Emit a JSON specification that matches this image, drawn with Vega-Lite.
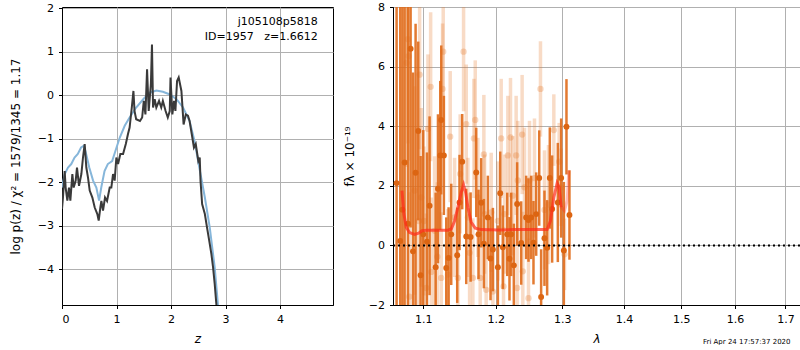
{
  "$schema": "https://vega.github.io/schema/vega-lite/v6.json",
  "background": "white",
  "padding": {"left": 8, "top": 0, "right": 1, "bottom": 0},
  "config": {
    "font": "DejaVu Sans",
    "view": {"stroke": "black", "strokeWidth": 1},
    "axis": {"grid": true, "gridColor": "#b0b0b0", "gridWidth": 1, "domainColor": "black", "tickColor": "black", "tickSize": 3.5, "labelFont": "DejaVu Sans", "labelFontSize": 11, "labelColor": "black", "titleFont": "DejaVu Sans", "titleFontSize": 12, "titleFontWeight": "normal", "titleColor": "black", "labelPadding": 5, "labelExpr": "replace(datum.label, '-', '−')"},
    "axisX": {"titlePadding": 9},
    "concat": {"spacing": 8}
  },
  "title": {"text": "Fri Apr 24 17:57:37 2020", "orient": "bottom", "anchor": "end", "fontSize": 7, "fontWeight": "normal", "color": "black", "offset": -7, "dx": -11},
  "datasets": {
    "blue": [
      {"z": 0, "logp": -2.12}, {"z": 0.05, "logp": -1.81}, {"z": 0.11, "logp": -1.66}, {"z": 0.17, "logp": -1.58}, {"z": 0.23, "logp": -1.43}, {"z": 0.29, "logp": -1.35}, {"z": 0.35, "logp": -1.2}, {"z": 0.40, "logp": -1.16}, {"z": 0.43, "logp": -1.28}, {"z": 0.50, "logp": -1.66}, {"z": 0.57, "logp": -1.96}, {"z": 0.63, "logp": -2.12}, {"z": 0.68, "logp": -2.42}, {"z": 0.72, "logp": -2.12}, {"z": 0.78, "logp": -1.74}, {"z": 0.84, "logp": -1.58}, {"z": 0.92, "logp": -1.51}, {"z": 1.0, "logp": -1.2}, {"z": 1.06, "logp": -0.97}, {"z": 1.15, "logp": -0.70}, {"z": 1.24, "logp": -0.51}, {"z": 1.36, "logp": -0.28}, {"z": 1.49, "logp": -0.09}, {"z": 1.61, "logp": 0.06}, {"z": 1.73, "logp": 0.11}, {"z": 1.85, "logp": 0.08}, {"z": 1.98, "logp": 0.02}, {"z": 2.10, "logp": -0.09}, {"z": 2.22, "logp": -0.28}, {"z": 2.34, "logp": -0.59}, {"z": 2.43, "logp": -1.05}, {"z": 2.53, "logp": -1.74}, {"z": 2.62, "logp": -2.35}, {"z": 2.71, "logp": -3.04}, {"z": 2.80, "logp": -3.95}, {"z": 2.86, "logp": -4.81}, {"z": 2.90, "logp": -5.3}
    ],
    "dark": [
      {"z": 0, "logp": -2.61}, {"z": 0.018, "logp": -2.35}, {"z": 0.049, "logp": -1.74}, {"z": 0.067, "logp": -2.12}, {"z": 0.098, "logp": -2.42}, {"z": 0.128, "logp": -2.12}, {"z": 0.153, "logp": -2.42}, {"z": 0.19, "logp": -1.81}, {"z": 0.214, "logp": -2.12}, {"z": 0.251, "logp": -1.96}, {"z": 0.275, "logp": -1.66}, {"z": 0.312, "logp": -2.08}, {"z": 0.355, "logp": -1.81}, {"z": 0.385, "logp": -1.43}, {"z": 0.416, "logp": -1.12}, {"z": 0.446, "logp": -1.66}, {"z": 0.477, "logp": -1.89}, {"z": 0.508, "logp": -2.19}, {"z": 0.557, "logp": -2.35}, {"z": 0.60, "logp": -2.58}, {"z": 0.648, "logp": -2.73}, {"z": 0.673, "logp": -2.88}, {"z": 0.703, "logp": -2.58}, {"z": 0.722, "logp": -2.43}, {"z": 0.752, "logp": -2.65}, {"z": 0.789, "logp": -2.35}, {"z": 0.826, "logp": -2.43}, {"z": 0.875, "logp": -2.12}, {"z": 0.905, "logp": -2.12}, {"z": 0.936, "logp": -1.81}, {"z": 0.966, "logp": -1.96}, {"z": 0.997, "logp": -1.43}, {"z": 1.028, "logp": -1.58}, {"z": 1.07, "logp": -1.35}, {"z": 1.12, "logp": -1.35}, {"z": 1.17, "logp": -1.12}, {"z": 1.21, "logp": -0.89}, {"z": 1.24, "logp": -0.74}, {"z": 1.26, "logp": -0.51}, {"z": 1.28, "logp": -0.28}, {"z": 1.31, "logp": 0.10}, {"z": 1.33, "logp": -0.36}, {"z": 1.36, "logp": -0.55}, {"z": 1.43, "logp": -0.59}, {"z": 1.47, "logp": -0.51}, {"z": 1.50, "logp": -0.13}, {"z": 1.53, "logp": -0.44}, {"z": 1.56, "logp": 0.60}, {"z": 1.59, "logp": -0.36}, {"z": 1.63, "logp": 0.25}, {"z": 1.65, "logp": 1.17}, {"z": 1.67, "logp": -0.28}, {"z": 1.70, "logp": -0.09}, {"z": 1.73, "logp": -0.28}, {"z": 1.78, "logp": -0.13}, {"z": 1.82, "logp": -0.28}, {"z": 1.85, "logp": -0.13}, {"z": 1.90, "logp": -0.36}, {"z": 1.94, "logp": -0.51}, {"z": 1.976, "logp": -0.36}, {"z": 1.99, "logp": 0.41}, {"z": 2.024, "logp": -0.44}, {"z": 2.055, "logp": -0.13}, {"z": 2.08, "logp": -0.36}, {"z": 2.11, "logp": 0.33}, {"z": 2.14, "logp": 0.41}, {"z": 2.19, "logp": 0.10}, {"z": 2.23, "logp": -0.67}, {"z": 2.27, "logp": -0.44}, {"z": 2.31, "logp": -0.47}, {"z": 2.34, "logp": -0.59}, {"z": 2.39, "logp": -0.97}, {"z": 2.42, "logp": -1.2}, {"z": 2.453, "logp": -1.12}, {"z": 2.50, "logp": -1.51}, {"z": 2.526, "logp": -1.43}, {"z": 2.54, "logp": -1.96}, {"z": 2.57, "logp": -2.50}, {"z": 2.62, "logp": -2.73}, {"z": 2.66, "logp": -3.04}, {"z": 2.70, "logp": -3.34}, {"z": 2.74, "logp": -3.65}, {"z": 2.77, "logp": -3.95}, {"z": 2.80, "logp": -4.33}, {"z": 2.83, "logp": -4.79}, {"z": 2.85, "logp": -5.1}
    ],
    "spec_dark": [
      {"lam": 1.0653, "f": 2.09, "lo": -5.91, "hi": 10.09}, {"lam": 1.0700, "f": 0.15, "lo": -7.85, "hi": 8.15}, {"lam": 1.0728, "f": 1.2, "lo": -6.8, "hi": 9.2}, {"lam": 1.0756, "f": 2.78, "lo": -5.22, "hi": 10.78}, {"lam": 1.0799, "f": 0.73, "lo": -7.27, "hi": 8.73}, {"lam": 1.0834, "f": 6.6, "lo": 0.6, "hi": 12.6}, {"lam": 1.0865, "f": -0.2, "lo": -6.2, "hi": 5.8}, {"lam": 1.0899, "f": 2.44, "lo": -2.56, "hi": 7.44}, {"lam": 1.0934, "f": 3.84, "lo": 0.84, "hi": 6.84}, {"lam": 1.0965, "f": -1.0, "lo": -5.0, "hi": 3.0}, {"lam": 1.1000, "f": 0.37, "lo": -3.13, "hi": 3.87}, {"lam": 1.1049, "f": 0.12, "lo": -2.88, "hi": 3.12}, {"lam": 1.1084, "f": 1.33, "lo": -1.67, "hi": 4.33}, {"lam": 1.1165, "f": -0.73, "lo": -3.23, "hi": 1.77}, {"lam": 1.1196, "f": 1.9, "lo": -0.6, "hi": 4.4}, {"lam": 1.1227, "f": 3.02, "lo": 0.52, "hi": 5.52}, {"lam": 1.1276, "f": 3.02, "lo": 1.02, "hi": 5.02}, {"lam": 1.1240, "f": 4.21, "lo": 1.71, "hi": 6.71}, {"lam": 1.1340, "f": -0.42, "lo": -2.12, "hi": 1.28}, {"lam": 1.1308, "f": -0.76, "lo": -2.46, "hi": 0.94}, {"lam": 1.1376, "f": 0.37, "lo": -1.33, "hi": 2.07}, {"lam": 1.1458, "f": -0.33, "lo": -1.93, "hi": 1.27}, {"lam": 1.1490, "f": 1.44, "lo": -0.16, "hi": 3.04}, {"lam": 1.1527, "f": 2.81, "lo": 1.21, "hi": 4.41}, {"lam": 1.1583, "f": 0.30, "lo": -1.3, "hi": 1.9}, {"lam": 1.1644, "f": 0.28, "lo": -1.22, "hi": 1.78}, {"lam": 1.1723, "f": 2.45, "lo": 0.95, "hi": 3.95}, {"lam": 1.1755, "f": 0.37, "lo": -1.13, "hi": 1.87}, {"lam": 1.1793, "f": 1.43, "lo": -0.07, "hi": 2.93}, {"lam": 1.1831, "f": 0.06, "lo": -1.44, "hi": 1.56}, {"lam": 1.1888, "f": 0.94, "lo": -0.46, "hi": 2.34}, {"lam": 1.1926, "f": -0.44, "lo": -1.84, "hi": 0.96}, {"lam": 1.1960, "f": -0.14, "lo": -1.54, "hi": 1.26}, {"lam": 1.2032, "f": -0.73, "lo": -2.13, "hi": 0.67}, {"lam": 1.2066, "f": 1.75, "lo": 0.35, "hi": 3.15}, {"lam": 1.2104, "f": -0.06, "lo": -1.46, "hi": 1.34}, {"lam": 1.2168, "f": 0.37, "lo": -1.03, "hi": 1.77}, {"lam": 1.2201, "f": -0.45, "lo": -1.85, "hi": 0.95}, {"lam": 1.2226, "f": 0.37, "lo": -1.03, "hi": 1.77}, {"lam": 1.2265, "f": -0.67, "lo": -2.07, "hi": 0.73}, {"lam": 1.2314, "f": 1.39, "lo": -0.01, "hi": 2.79}, {"lam": 1.2374, "f": 0.08, "lo": -1.32, "hi": 1.48}, {"lam": 1.2448, "f": 0.94, "lo": -0.46, "hi": 2.34}, {"lam": 1.2483, "f": 0.85, "lo": -0.55, "hi": 2.25}, {"lam": 1.2523, "f": 0.94, "lo": -0.46, "hi": 2.34}, {"lam": 1.2558, "f": 0.09, "lo": -1.31, "hi": 1.49}, {"lam": 1.2599, "f": 1.05, "lo": -0.35, "hi": 2.45}, {"lam": 1.2645, "f": 2.26, "lo": 0.66, "hi": 3.86}, {"lam": 1.2674, "f": -1.73, "lo": -3.33, "hi": -0.13}, {"lam": 1.2725, "f": 0.24, "lo": -1.36, "hi": 1.84}, {"lam": 1.2766, "f": -0.08, "lo": -1.68, "hi": 1.52}, {"lam": 1.2807, "f": 2.26, "lo": 0.56, "hi": 3.96}, {"lam": 1.2843, "f": 1.22, "lo": -0.58, "hi": 3.02}, {"lam": 1.2931, "f": 1.44, "lo": -0.56, "hi": 3.44}, {"lam": 1.2983, "f": 2.26, "lo": 0.26, "hi": 4.26}, {"lam": 1.3025, "f": -0.17, "lo": -2.47, "hi": 2.13}, {"lam": 1.3066, "f": 3.98, "lo": 2.38, "hi": 5.58}, {"lam": 1.3113, "f": 1.02, "lo": -0.48, "hi": 2.52}
    ],
    "spec_light": [
      {"lam": 1.0799, "f": 6.92, "lo": 3.42, "hi": 10.42}, {"lam": 1.0808, "f": 6.35, "lo": 2.85, "hi": 9.85}, {"lam": 1.0782, "f": 6.13, "lo": 2.63, "hi": 9.63}, {"lam": 1.0817, "f": -1.72, "lo": -5.22, "hi": 1.78}, {"lam": 1.0952, "f": 5.73, "lo": 3.23, "hi": 8.23}, {"lam": 1.1098, "f": 5.32, "lo": 2.82, "hi": 7.82}, {"lam": 1.1062, "f": 3.91, "lo": 1.41, "hi": 6.41}, {"lam": 1.0974, "f": 1.61, "lo": -1.39, "hi": 4.61}, {"lam": 1.0886, "f": 1.84, "lo": -1.66, "hi": 5.34}, {"lam": 1.0939, "f": 0.82, "lo": -2.18, "hi": 3.82}, {"lam": 1.1009, "f": 0.82, "lo": -1.68, "hi": 3.32}, {"lam": 1.1040, "f": -1.43, "lo": -3.93, "hi": 1.07}, {"lam": 1.1107, "f": -0.89, "lo": -3.39, "hi": 1.61}, {"lam": 1.1151, "f": 0.49, "lo": -2.01, "hi": 2.99}, {"lam": 1.1187, "f": -0.38, "lo": -2.88, "hi": 2.12}, {"lam": 1.1267, "f": 6.5, "lo": 4.3, "hi": 8.7}, {"lam": 1.1258, "f": 5.25, "lo": 3.05, "hi": 7.45}, {"lam": 1.1240, "f": -1.09, "lo": -3.29, "hi": 1.11}, {"lam": 1.1331, "f": -0.98, "lo": -3.18, "hi": 1.22}, {"lam": 1.1362, "f": 3.65, "lo": 1.45, "hi": 5.85}, {"lam": 1.1422, "f": 0.94, "lo": -1.06, "hi": 2.94}, {"lam": 1.1467, "f": -1.09, "lo": -3.09, "hi": 0.91}, {"lam": 1.1499, "f": 2.40, "lo": 0.4, "hi": 4.4}, {"lam": 1.1546, "f": 6.5, "lo": 4.5, "hi": 8.5}, {"lam": 1.1583, "f": 4.07, "lo": 2.07, "hi": 6.07}, {"lam": 1.1606, "f": 0.94, "lo": -1.06, "hi": 2.94}, {"lam": 1.1630, "f": -0.25, "lo": -2.25, "hi": 1.75}, {"lam": 1.1676, "f": -1.09, "lo": -3.09, "hi": 0.91}, {"lam": 1.1690, "f": 3.59, "lo": 1.59, "hi": 5.59}, {"lam": 1.1709, "f": 4.21, "lo": 2.21, "hi": 6.21}, {"lam": 1.1746, "f": 1.61, "lo": -0.39, "hi": 3.61}, {"lam": 1.1779, "f": -1.09, "lo": -3.09, "hi": 0.91}, {"lam": 1.1831, "f": 3.05, "lo": 1.05, "hi": 5.05}, {"lam": 1.1841, "f": 1.05, "lo": -0.95, "hi": 3.05}, {"lam": 1.1864, "f": -1.49, "lo": -3.49, "hi": 0.51}, {"lam": 1.1936, "f": 1.11, "lo": -0.89, "hi": 3.11}, {"lam": 1.1960, "f": -1.55, "lo": -3.55, "hi": 0.45}, {"lam": 1.2032, "f": 0.82, "lo": -1.18, "hi": 2.82}, {"lam": 1.2080, "f": 3.59, "lo": 1.59, "hi": 5.59}, {"lam": 1.2114, "f": -1.38, "lo": -3.38, "hi": 0.62}, {"lam": 1.2129, "f": 1.05, "lo": -0.95, "hi": 3.05}, {"lam": 1.2177, "f": 3.02, "lo": 1.02, "hi": 5.02}, {"lam": 1.2216, "f": 3.62, "lo": 1.62, "hi": 5.62}, {"lam": 1.2250, "f": 1.67, "lo": -0.33, "hi": 3.67}, {"lam": 1.2299, "f": 3.02, "lo": 1.02, "hi": 5.02}, {"lam": 1.2314, "f": -1.43, "lo": -3.43, "hi": 0.57}, {"lam": 1.2324, "f": 2.18, "lo": 0.18, "hi": 4.18}, {"lam": 1.2388, "f": 3.72, "lo": 1.72, "hi": 5.72}, {"lam": 1.2398, "f": -0.87, "lo": -2.87, "hi": 1.13}, {"lam": 1.2423, "f": 1.95, "lo": -0.05, "hi": 3.95}, {"lam": 1.2483, "f": -1.77, "lo": -3.77, "hi": 0.23}, {"lam": 1.2498, "f": 2.18, "lo": 0.18, "hi": 4.18}, {"lam": 1.2573, "f": 2.26, "lo": 0.26, "hi": 4.26}, {"lam": 1.2664, "f": 5.25, "lo": 3.65, "hi": 6.85}, {"lam": 1.2725, "f": 1.19, "lo": -0.81, "hi": 3.19}, {"lam": 1.2787, "f": 1.37, "lo": -0.63, "hi": 3.37}, {"lam": 1.2869, "f": 3.87, "lo": 2.67, "hi": 5.07}, {"lam": 1.2952, "f": 2.81, "lo": 1.51, "hi": 4.11}, {"lam": 1.3035, "f": -0.30, "lo": -1.5, "hi": 0.9}, {"lam": 1.2983, "f": 1.95, "lo": 0.65, "hi": 3.25}
    ],
    "model": [
      {"seg": "a", "lam": 1.0722, "f": 1.84}, {"seg": "a", "lam": 1.0747, "f": 1.05}, {"seg": "a", "lam": 1.0778, "f": 0.60}, {"seg": "a", "lam": 1.0821, "f": 0.43}, {"seg": "a", "lam": 1.0886, "f": 0.37}, {"seg": "a", "lam": 1.0939, "f": 0.41}, {"seg": "a", "lam": 1.0983, "f": 0.49}, {"seg": "a", "lam": 1.1040, "f": 0.51}, {"seg": "a", "lam": 1.1196, "f": 0.51}, {"seg": "a", "lam": 1.1331, "f": 0.51}, {"seg": "a", "lam": 1.1376, "f": 0.55}, {"seg": "a", "lam": 1.1422, "f": 0.82}, {"seg": "a", "lam": 1.1467, "f": 1.28}, {"seg": "a", "lam": 1.1513, "f": 1.78}, {"seg": "a", "lam": 1.1546, "f": 2.03}, {"seg": "a", "lam": 1.1574, "f": 1.78}, {"seg": "a", "lam": 1.1606, "f": 1.28}, {"seg": "a", "lam": 1.1653, "f": 0.77}, {"seg": "a", "lam": 1.1709, "f": 0.58}, {"seg": "a", "lam": 1.1793, "f": 0.53}, {"seg": "a", "lam": 1.2032, "f": 0.52}, {"seg": "a", "lam": 1.2275, "f": 0.53}, {"seg": "a", "lam": 1.2523, "f": 0.53}, {"seg": "a", "lam": 1.2766, "f": 0.53}, {"seg": "a", "lam": 1.2817, "f": 0.82}, {"seg": "a", "lam": 1.2869, "f": 1.61}, {"seg": "a", "lam": 1.2920, "f": 2.09}, {"seg": "a", "lam": 1.2952, "f": 1.95}, {"seg": "a", "lam": 1.2983, "f": 1.28},
      {"seg": "b", "lam": 1.2983, "f": 1.28}, {"seg": "b", "lam": 1.3035, "f": 1.16}, {"seg": "b", "lam": 1.3077, "f": 1.50}, {"seg": "b", "lam": 1.3103, "f": 2.52}
    ]
  },
  "hconcat": [
    {
      "width": 271,
      "height": 298,
      "layer": [
        {
          "data": {"name": "blue"},
          "mark": {"type": "line", "color": "#86b6da", "strokeWidth": 2, "clip": true},
          "encoding": {
            "x": {"field": "z", "type": "quantitative", "scale": {"domain": [0, 4.97], "nice": false, "zero": false}, "axis": {"values": [0, 1, 2, 3, 4], "title": "z", "titleFontStyle": "italic"}},
            "y": {"field": "logp", "type": "quantitative", "scale": {"domain": [-4.82, 2.03], "nice": false, "zero": false}, "axis": {"values": [-4, -3, -2, -1, 0, 1, 2], "title": "log p(z) / χ² = 1579/1345 = 1.17", "titlePadding": 15}}
          }
        },
        {
          "data": {"name": "dark"},
          "mark": {"type": "line", "color": "#3a3a3a", "strokeWidth": 2, "clip": true},
          "encoding": {
            "x": {"field": "z", "type": "quantitative"},
            "y": {"field": "logp", "type": "quantitative"}
          }
        },
        {
          "data": {"values": [{"label": "info"}]},
          "mark": {"type": "text", "text": ["j105108p5818", "ID=1957\u00a0\u00a0\u00a0z=1.6612"], "align": "right", "baseline": "top", "fontSize": 11, "lineHeight": 15, "color": "black"},
          "encoding": {
            "x": {"datum": 4.69, "type": "quantitative"},
            "y": {"datum": 1.82, "type": "quantitative"}
          }
        }
      ]
    },
    {
      "width": 407,
      "height": 298,
      "encoding": {
        "x": {"field": "lam", "type": "quantitative", "scale": {"type": "log", "domain": [1.0607, 1.73], "nice": false, "zero": false}, "axis": {"values": [1.1, 1.2, 1.3, 1.4, 1.5, 1.6, 1.7], "format": ".1f", "title": "λ", "titleFontStyle": "italic"}}
      },
      "layer": [
        {
          "data": {"name": "spec_light"},
          "mark": {"type": "rule", "color": "#e57a2e", "opacity": 0.27, "strokeWidth": 3.5, "clip": true},
          "encoding": {
            "y": {"field": "lo", "type": "quantitative", "scale": {"domain": [-2, 8], "nice": false, "zero": false}, "axis": {"values": [-2, 0, 2, 4, 6, 8], "title": "fλ × 10⁻¹⁹", "titlePadding": 12}},
            "y2": {"field": "hi"}
          }
        },
        {
          "data": {"name": "spec_light"},
          "mark": {"type": "circle", "color": "#e57a2e", "opacity": 0.3, "size": 40, "clip": true},
          "encoding": {"y": {"field": "f", "type": "quantitative"}}
        },
        {
          "data": {"name": "spec_dark"},
          "mark": {"type": "rule", "color": "#e06c1b", "opacity": 0.9, "strokeWidth": 2.5, "clip": true},
          "encoding": {
            "y": {"field": "lo", "type": "quantitative"},
            "y2": {"field": "hi"}
          }
        },
        {
          "data": {"name": "spec_dark"},
          "mark": {"type": "circle", "color": "#dc6512", "opacity": 1, "size": 35, "clip": true},
          "encoding": {"y": {"field": "f", "type": "quantitative"}}
        },
        {
          "data": {"name": "model"},
          "mark": {"type": "line", "color": "#ff2a1a", "opacity": 0.7, "strokeWidth": 3, "clip": true},
          "encoding": {
            "y": {"field": "f", "type": "quantitative"},
            "detail": {"field": "seg"},
            "strokeOpacity": {"field": "seg", "type": "nominal", "scale": {"domain": ["a", "b"], "range": [1, 0.45]}, "legend": null}
          }
        },
        {
          "data": {"values": [{"zero": 0}]},
          "mark": {"type": "rule", "color": "black", "strokeWidth": 2, "strokeDash": [2, 3]},
          "encoding": {"y": {"field": "zero", "type": "quantitative"}, "x": null}
        }
      ]
    }
  ]
}
